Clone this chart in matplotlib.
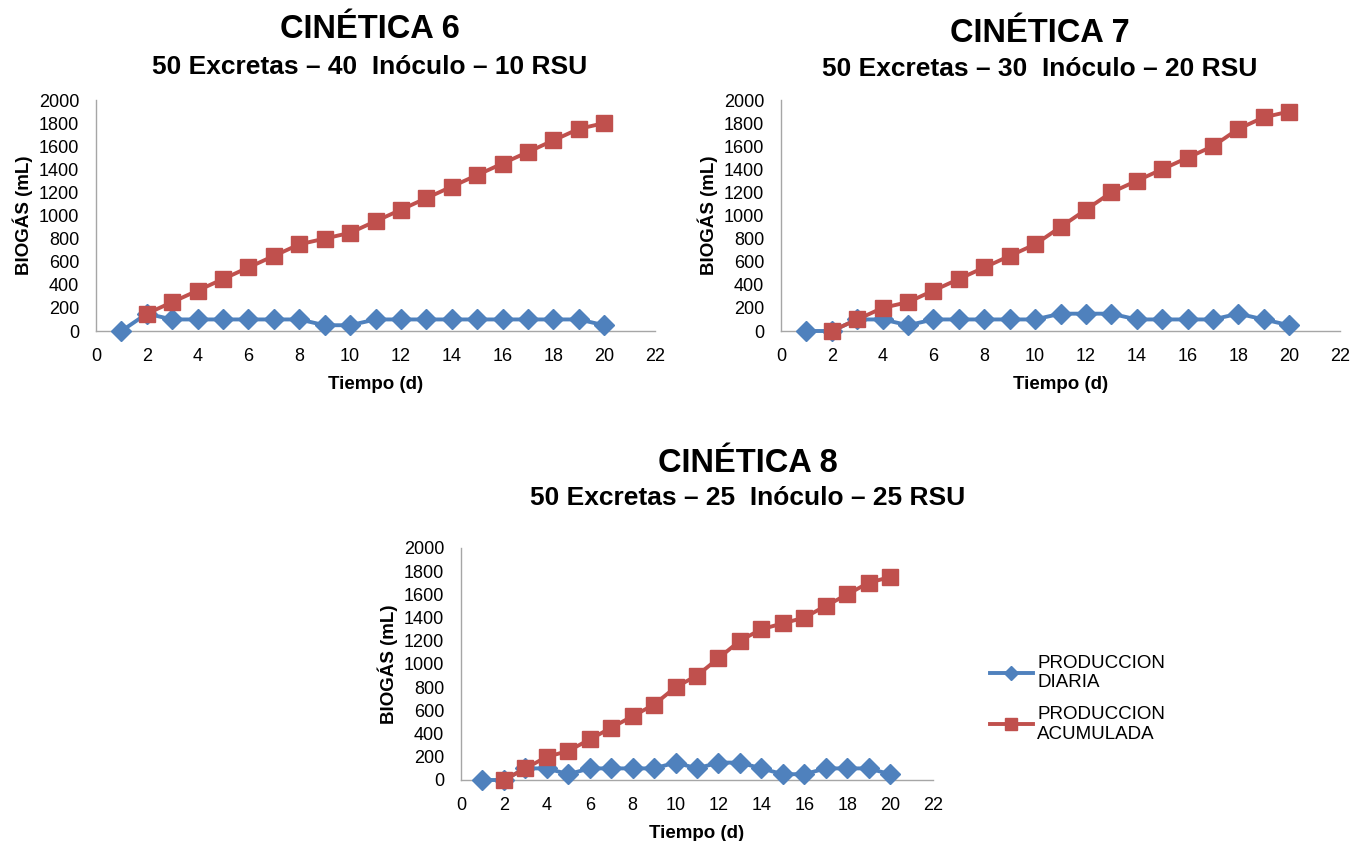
import matplotlib
matplotlib.use("Agg")
import matplotlib.pyplot as plt

plt.rcParams['font.family'] = ['Liberation Sans', 'DejaVu Sans']

# Days of each kinetic run
days_diaria = list(range(1, 21))
days_acum = list(range(2, 21))

# CINÉTICA 6
c6_diaria = [0, 150, 100, 100, 100, 100, 100, 100, 50, 50,
             100, 100, 100, 100, 100, 100, 100, 100, 100, 50]
c6_acum = [150, 250, 350, 450, 550, 650, 750, 800, 850, 950,
           1050, 1150, 1250, 1350, 1450, 1550, 1650, 1750, 1800]

# CINÉTICA 7
c7_diaria = [0, 0, 100, 100, 50, 100, 100, 100, 100, 100,
             150, 150, 150, 100, 100, 100, 100, 150, 100, 50]
c7_acum = [0, 100, 200, 250, 350, 450, 550, 650, 750, 900,
           1050, 1200, 1300, 1400, 1500, 1600, 1750, 1850, 1900]

# CINÉTICA 8
c8_diaria = [0, 0, 100, 100, 50, 100, 100, 100, 100, 150,
             100, 150, 150, 100, 50, 50, 100, 100, 100, 50]
c8_acum = [0, 100, 200, 250, 350, 450, 550, 650, 800, 900,
           1050, 1200, 1300, 1350, 1400, 1500, 1600, 1700, 1750]

titles = ["CINÉTICA 6", "CINÉTICA 7", "CINÉTICA 8"]
subtitles = ["50 Excretas – 40  Inóculo – 10 RSU",
             "50 Excretas – 30  Inóculo – 20 RSU",
             "50 Excretas – 25  Inóculo – 25 RSU"]
series_labels = ["PRODUCCION\nDIARIA", "PRODUCCION\nACUMULADA"]
x_ticks = list(range(0, 23, 2))
y_ticks = list(range(0, 2001, 200))

BLUE = "#4F81BD"
RED = "#C0504D"
AXIS_GRAY = "#A6A6A6"

W, H = 1366, 841
fig = plt.figure(figsize=(W / 100, H / 100), dpi=100)


def px_axes(x0, x1, y_top, y_bot):
    return fig.add_axes([x0 / W, 1 - y_bot / H, (x1 - x0) / W, (y_bot - y_top) / H])


def draw_panel(ax, diaria, acum):
    l1, = ax.plot(days_diaria, diaria, color=BLUE, lw=2.8, marker="D",
                  markersize=10.5, markeredgecolor=BLUE, zorder=3)
    l2, = ax.plot(days_acum, acum, color=RED, lw=2.8, marker="s",
                  markersize=12, markeredgecolor=RED, zorder=4)
    ax.set_xlim(0, 22)
    ax.set_ylim(0, 2000)
    ax.set_xticks(x_ticks)
    ax.set_yticks(y_ticks)
    ax.tick_params(axis="both", length=0, labelsize=13)
    ax.tick_params(axis="x", pad=12)
    ax.tick_params(axis="y", pad=12)
    for s in ("top", "right"):
        ax.spines[s].set_visible(False)
    for s in ("left", "bottom"):
        ax.spines[s].set_color(AXIS_GRAY)
        ax.spines[s].set_linewidth(1.0)
    ax.set_xlabel("Tiempo (d)", fontsize=13.5, fontweight="bold", labelpad=8)
    ax.set_ylabel("BIOGÁS (mL)", fontsize=13.5, fontweight="bold", labelpad=4)
    for ln in (l1, l2):
        ln.set_clip_on(False)
    return l1, l2


ax6 = px_axes(96, 655, 100, 331)
ax7 = px_axes(781, 1340, 100, 331)
ax8 = px_axes(461, 933, 548, 780)

draw_panel(ax6, c6_diaria, c6_acum)
draw_panel(ax7, c7_diaria, c7_acum)
h1, h2 = draw_panel(ax8, c8_diaria, c8_acum)

# Titles (centre x, title baseline, subtitle baseline) in pixels from the top
title_pos = [(370, 38, 74), (1040, 42, 76), (748, 472, 505)]
for (cx, ty, sy), t, st in zip(title_pos, titles, subtitles):
    fig.text(cx / W, 1 - ty / H, t, ha="center", va="baseline",
             fontsize=23.5, fontweight="bold")
    fig.text(cx / W, 1 - sy / H, st, ha="center", va="baseline",
             fontsize=19, fontweight="bold")

fig.legend([h1, h2], series_labels, loc="upper left",
           bbox_to_anchor=(982 / W, 1 - 647 / H), frameon=False,
           fontsize=13.5, handlelength=2.3, handletextpad=0.25,
           labelspacing=0.8, borderaxespad=0, markerscale=0.7)

fig.savefig("out.png", dpi=100)
